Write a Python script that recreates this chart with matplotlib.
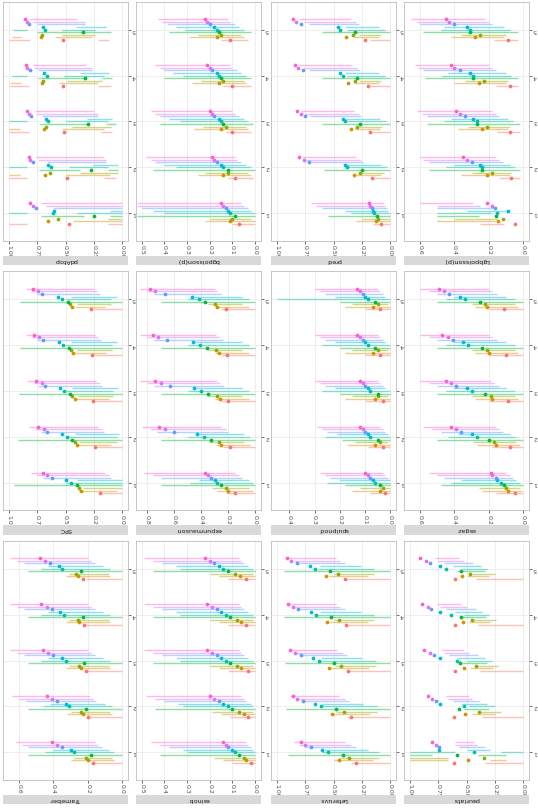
import numpy as np
import matplotlib
matplotlib.use("Agg")
import matplotlib.pyplot as plt

W, H = 538, 808
colors = ["#F8766D", "#D39200", "#93AA00", "#00BA38", "#00C19F",
          "#00B9E3", "#619CFF", "#DB72FB", "#FF61C3"]
categories = ["1", "2", "3", "4", "5"]
panel_names = ["pdAtop", "bgpoisson(p)", "pred", "Lgbpoisson(p)",
               "SPC", "expunmauson", "spuipnod", "esgaz",
               "Trameber", "esinob", "Leteruvs", "pauriats"]
panel_xlim = [(1.05, -0.05), (0.525, -0.026), (1.05, -0.05), (0.693, -0.033),
              (1.05, -0.05), (0.882, -0.042), (0.4725, -0.0225), (0.693, -0.033),
              (0.693, -0.033), (0.525, -0.026), (1.05, -0.05), (1.05, -0.05)]
panel_ticks = [[0, .25, .5, .75, 1], [0, .1, .2, .3, .4, .5], [0, .25, .5, .75, 1],
               [0, .2, .4, .6], [0, .25, .5, .75, 1], [0, .2, .4, .6, .8],
               [0, .1, .2, .3, .4], [0, .2, .4, .6], [0, .2, .4, .6],
               [0, .1, .2, .3, .4, .5], [0, .25, .5, .75, 1], [0, .25, .5, .75, 1]]
panel_fmt = ["%.2f", "%.1f", "%.2f", "%.1f", "%.2f", "%.1f", "%.1f", "%.1f",
             "%.1f", "%.1f", "%.2f", "%.2f"]

# series order: red, orange, olive, green, teal, cyan, blue, purple, pink
# rows: category 1..5
p1_pt = [[0.47, 0.65, 0.57, 0.25, 0.61, 0.60, 0.76, 0.79, 0.81],
         [0.49, 0.68, 0.64, 0.28, 0.63, 0.65, 0.79, 0.81, 0.82],
         [0.51, 0.69, 0.67, 0.30, 0.65, 0.67, 0.80, 0.82, 0.84],
         [0.52, 0.71, 0.70, 0.33, 0.66, 0.69, 0.81, 0.84, 0.85],
         [0.52, 0.72, 0.71, 0.35, 0.68, 0.70, 0.82, 0.84, 0.86]]
p1_lo = [[0.84, 0.00, 0.00, 0.34, 0.84, 0.00, 0.00, 0.00, 0.00],
         [0.84, 0.90, 0.04, 0.37, 0.84, 0.04, 0.14, 0.14, 0.16],
         [0.82, 0.90, 0.10, 0.31, 0.84, 0.09, 0.21, 0.21, 0.25],
         [0.82, 0.89, 0.18, 0.32, 0.84, 0.12, 0.27, 0.27, 0.32],
         [0.81, 0.89, 0.24, 0.10, 0.84, 0.14, 0.33, 0.33, 0.40]]
p1_hi = [[1.00, 0.43, 0.13, 0.72, 1.00, 0.11, 0.61, 0.67, 0.72],
         [1.00, 1.00, 0.37, 0.73, 1.00, 0.26, 0.66, 0.74, 0.76],
         [1.00, 1.00, 0.44, 0.73, 1.00, 0.31, 0.71, 0.76, 0.77],
         [1.00, 0.99, 0.49, 0.74, 0.97, 0.37, 0.74, 0.78, 0.79],
         [1.00, 0.97, 0.53, 0.75, 0.96, 0.41, 0.75, 0.79, 0.81]]
# extra segments: (category, series, low, high)
p1_extra = [(1, 0, 0.00, 0.13), (1, 3, 0.00, 0.11), (1, 4, 0.00, 0.40),
            (2, 0, 0.06, 0.16), (2, 1, 0.11, 0.50), (2, 3, 0.04, 0.13), (2, 4, 0.13, 0.47),
            (3, 0, 0.09, 0.19), (3, 1, 0.16, 0.53), (3, 3, 0.06, 0.14), (3, 4, 0.13, 0.50),
            (4, 0, 0.10, 0.21), (4, 1, 0.21, 0.56), (4, 3, 0.09, 0.18), (4, 4, 0.16, 0.51),
            (5, 0, 0.12, 0.21), (5, 1, 0.27, 0.59), (5, 4, 0.24, 0.53)]

p2_pt = [[0.07, 0.11, 0.10, 0.09, 0.11, 0.12, 0.13, 0.14, 0.15],
         [0.09, 0.14, 0.12, 0.12, 0.14, 0.15, 0.17, 0.18, 0.19],
         [0.10, 0.15, 0.13, 0.14, 0.15, 0.16, 0.18, 0.19, 0.20],
         [0.10, 0.16, 0.14, 0.15, 0.16, 0.17, 0.19, 0.20, 0.21],
         [0.11, 0.17, 0.15, 0.16, 0.17, 0.18, 0.20, 0.21, 0.22]]
p2_lo = [[0.00, 0.00, 0.02, 0.00, 0.00, 0.02, 0.03, 0.05, 0.06],
         [0.01, 0.02, 0.03, 0.00, 0.02, 0.04, 0.06, 0.08, 0.09],
         [0.02, 0.03, 0.04, 0.01, 0.03, 0.05, 0.07, 0.09, 0.10],
         [0.02, 0.04, 0.05, 0.02, 0.04, 0.06, 0.08, 0.10, 0.11],
         [0.03, 0.05, 0.06, 0.02, 0.05, 0.07, 0.09, 0.11, 0.12]]
p2_hi = [[0.10, 0.22, 0.20, 0.52, 0.40, 0.45, 0.50, 0.52, 0.52],
         [0.12, 0.25, 0.22, 0.45, 0.35, 0.40, 0.44, 0.46, 0.48],
         [0.13, 0.27, 0.23, 0.42, 0.33, 0.38, 0.42, 0.44, 0.46],
         [0.14, 0.28, 0.24, 0.40, 0.32, 0.36, 0.40, 0.42, 0.44],
         [0.15, 0.29, 0.25, 0.38, 0.31, 0.35, 0.39, 0.41, 0.43]]
p2_extra = []

p3_pt = [[0.08, 0.13, 0.11, 0.12, 0.14, 0.15, 0.16, 0.18, 0.19],
         [0.16, 0.32, 0.27, 0.25, 0.38, 0.40, 0.72, 0.76, 0.80],
         [0.18, 0.35, 0.29, 0.27, 0.40, 0.42, 0.75, 0.79, 0.82],
         [0.20, 0.37, 0.31, 0.29, 0.42, 0.44, 0.77, 0.81, 0.84],
         [0.22, 0.39, 0.33, 0.31, 0.44, 0.46, 0.79, 0.83, 0.86]]
p3_lo = [[0.00, 0.00, 0.00, 0.00, 0.00, 0.02, 0.03, 0.05, 0.06],
         [0.00, 0.08, 0.06, 0.00, 0.03, 0.08, 0.24, 0.26, 0.30],
         [0.00, 0.09, 0.07, 0.00, 0.04, 0.09, 0.26, 0.28, 0.32],
         [0.00, 0.10, 0.08, 0.00, 0.05, 0.10, 0.27, 0.29, 0.34],
         [0.00, 0.10, 0.08, 0.00, 0.05, 0.10, 0.28, 0.30, 0.35]]
p3_hi = [[0.15, 0.30, 0.25, 0.55, 0.35, 0.40, 0.60, 0.65, 0.70],
         [0.17, 0.31, 0.27, 0.58, 0.37, 0.40, 0.70, 0.74, 0.78],
         [0.18, 0.32, 0.28, 0.60, 0.38, 0.40, 0.71, 0.75, 0.79],
         [0.18, 0.32, 0.28, 0.60, 0.38, 0.40, 0.72, 0.76, 0.80],
         [0.18, 0.32, 0.28, 0.60, 0.38, 0.40, 0.72, 0.76, 0.80]]
p3_extra = []

p4_pt = [[0.05, 0.146, 0.12, 0.16, 0.155, 0.09, 0.165, 0.18, 0.21],
         [0.07, 0.21, 0.18, 0.24, 0.24, 0.25, 0.30, 0.33, 0.35],
         [0.08, 0.24, 0.21, 0.27, 0.27, 0.29, 0.34, 0.37, 0.39],
         [0.08, 0.26, 0.23, 0.29, 0.29, 0.31, 0.37, 0.40, 0.42],
         [0.09, 0.28, 0.25, 0.31, 0.31, 0.33, 0.40, 0.43, 0.45]]
p4_lo = [[0.11, 0.16, 0.155, 0.26, 0.19, 0.09, 0.16, 0.25, 0.29],
         [0.02, 0.08, 0.07, 0.02, 0.05, 0.08, 0.12, 0.14, 0.16],
         [0.02, 0.09, 0.08, 0.02, 0.06, 0.09, 0.14, 0.16, 0.18],
         [0.03, 0.10, 0.09, 0.03, 0.07, 0.10, 0.16, 0.18, 0.20],
         [0.03, 0.11, 0.10, 0.03, 0.08, 0.11, 0.18, 0.20, 0.22]]
p4_hi = [[0.25, 0.50, 0.40, 0.50, 0.50, 0.33, 0.50, 0.50, 0.60],
         [0.14, 0.36, 0.30, 0.55, 0.45, 0.40, 0.55, 0.58, 0.60],
         [0.15, 0.38, 0.32, 0.56, 0.46, 0.42, 0.56, 0.59, 0.62],
         [0.16, 0.40, 0.34, 0.57, 0.47, 0.44, 0.58, 0.61, 0.63],
         [0.17, 0.42, 0.36, 0.58, 0.48, 0.46, 0.60, 0.62, 0.65]]
p4_extra = []

p5_pt = [[0.20, 0.36, 0.38, 0.40, 0.45, 0.50, 0.62, 0.66, 0.70],
         [0.24, 0.40, 0.42, 0.44, 0.49, 0.53, 0.66, 0.69, 0.74],
         [0.26, 0.42, 0.44, 0.46, 0.51, 0.55, 0.68, 0.71, 0.76],
         [0.27, 0.43, 0.45, 0.47, 0.52, 0.56, 0.70, 0.73, 0.78],
         [0.28, 0.44, 0.46, 0.48, 0.53, 0.57, 0.71, 0.74, 0.79]]
p5_lo = [[0.00, 0.05, 0.00, 0.00, 0.00, 0.00, 0.10, 0.12, 0.15],
         [0.00, 0.10, 0.05, 0.00, 0.05, 0.03, 0.16, 0.18, 0.21],
         [0.00, 0.12, 0.08, 0.00, 0.08, 0.04, 0.18, 0.20, 0.23],
         [0.00, 0.14, 0.09, 0.00, 0.09, 0.05, 0.19, 0.21, 0.24],
         [0.00, 0.15, 0.10, 0.00, 0.10, 0.05, 0.20, 0.22, 0.25]]
p5_hi = [[0.20, 0.38, 0.35, 0.95, 0.50, 0.40, 0.70, 0.75, 0.80],
         [0.22, 0.40, 0.38, 0.92, 0.50, 0.42, 0.72, 0.77, 0.82],
         [0.24, 0.41, 0.39, 0.91, 0.50, 0.44, 0.74, 0.78, 0.84],
         [0.25, 0.42, 0.40, 0.90, 0.50, 0.45, 0.75, 0.80, 0.85],
         [0.25, 0.42, 0.40, 0.90, 0.50, 0.45, 0.75, 0.80, 0.85]]
p5_extra = []

p6_pt = [[0.15, 0.20, 0.22, 0.25, 0.28, 0.30, 0.33, 0.35, 0.37],
         [0.19, 0.25, 0.27, 0.33, 0.38, 0.43, 0.60, 0.67, 0.71],
         [0.20, 0.26, 0.28, 0.35, 0.40, 0.45, 0.63, 0.70, 0.74],
         [0.21, 0.27, 0.29, 0.36, 0.41, 0.46, 0.65, 0.72, 0.76],
         [0.22, 0.28, 0.30, 0.37, 0.42, 0.47, 0.67, 0.74, 0.78]]
p6_lo = [[0.00, 0.02, 0.05, 0.00, 0.02, 0.05, 0.10, 0.12, 0.15],
         [0.00, 0.04, 0.08, 0.00, 0.04, 0.08, 0.20, 0.22, 0.25],
         [0.00, 0.05, 0.10, 0.00, 0.05, 0.10, 0.23, 0.26, 0.28],
         [0.00, 0.05, 0.10, 0.00, 0.05, 0.10, 0.24, 0.27, 0.29],
         [0.00, 0.05, 0.10, 0.00, 0.05, 0.10, 0.25, 0.28, 0.30]]
p6_hi = [[0.22, 0.28, 0.32, 0.70, 0.48, 0.42, 0.70, 0.76, 0.82],
         [0.24, 0.29, 0.34, 0.70, 0.50, 0.44, 0.73, 0.78, 0.84],
         [0.25, 0.30, 0.35, 0.70, 0.50, 0.45, 0.75, 0.80, 0.85],
         [0.25, 0.30, 0.35, 0.70, 0.50, 0.45, 0.75, 0.80, 0.85],
         [0.25, 0.30, 0.35, 0.70, 0.50, 0.45, 0.75, 0.80, 0.85]]
p6_extra = []

p7_pt = [[0.02, 0.04, 0.03, 0.04, 0.06, 0.07, 0.08, 0.09, 0.10],
         [0.03, 0.06, 0.04, 0.05, 0.08, 0.09, 0.10, 0.11, 0.12],
         [0.03, 0.06, 0.05, 0.05, 0.08, 0.09, 0.10, 0.11, 0.12],
         [0.04, 0.07, 0.05, 0.06, 0.09, 0.10, 0.11, 0.12, 0.13],
         [0.04, 0.07, 0.05, 0.06, 0.09, 0.10, 0.11, 0.12, 0.13]]
p7_lo = [[0.00, 0.00, 0.00, 0.00, 0.00, 0.00, 0.01, 0.02, 0.03],
         [0.00, 0.00, 0.01, 0.00, 0.00, 0.01, 0.02, 0.03, 0.04],
         [0.00, 0.00, 0.01, 0.00, 0.00, 0.02, 0.03, 0.04, 0.05],
         [0.00, 0.00, 0.01, 0.00, 0.00, 0.02, 0.03, 0.04, 0.05],
         [0.00, 0.00, 0.01, 0.00, 0.00, 0.02, 0.03, 0.04, 0.05]]
p7_hi = [[0.08, 0.15, 0.12, 0.18, 0.25, 0.20, 0.24, 0.26, 0.28],
         [0.09, 0.17, 0.14, 0.19, 0.26, 0.21, 0.25, 0.27, 0.29],
         [0.10, 0.18, 0.15, 0.20, 0.27, 0.22, 0.26, 0.28, 0.30],
         [0.10, 0.18, 0.15, 0.20, 0.27, 0.22, 0.26, 0.28, 0.30],
         [0.10, 0.18, 0.15, 0.20, 0.45, 0.22, 0.26, 0.28, 0.30]]
p7_extra = []

p8_pt = [[0.05, 0.09, 0.10, 0.11, 0.13, 0.15, 0.16, 0.18, 0.19],
         [0.08, 0.16, 0.17, 0.20, 0.27, 0.30, 0.36, 0.39, 0.42],
         [0.09, 0.18, 0.19, 0.22, 0.30, 0.33, 0.39, 0.42, 0.45],
         [0.10, 0.20, 0.21, 0.24, 0.32, 0.35, 0.41, 0.44, 0.47],
         [0.11, 0.21, 0.22, 0.25, 0.34, 0.37, 0.43, 0.46, 0.49]]
p8_lo = [[0.00, 0.01, 0.02, 0.00, 0.02, 0.04, 0.06, 0.08, 0.10],
         [0.00, 0.02, 0.04, 0.00, 0.04, 0.08, 0.12, 0.14, 0.16],
         [0.00, 0.03, 0.05, 0.00, 0.05, 0.10, 0.14, 0.17, 0.19],
         [0.00, 0.03, 0.05, 0.00, 0.05, 0.10, 0.15, 0.18, 0.20],
         [0.00, 0.03, 0.05, 0.00, 0.05, 0.10, 0.15, 0.18, 0.20]]
p8_hi = [[0.16, 0.24, 0.26, 0.48, 0.42, 0.36, 0.46, 0.50, 0.55],
         [0.18, 0.27, 0.29, 0.50, 0.44, 0.38, 0.48, 0.53, 0.58],
         [0.20, 0.28, 0.30, 0.50, 0.45, 0.40, 0.50, 0.55, 0.60],
         [0.20, 0.28, 0.30, 0.50, 0.45, 0.40, 0.50, 0.55, 0.60],
         [0.20, 0.28, 0.30, 0.50, 0.45, 0.40, 0.50, 0.55, 0.60]]
p8_extra = []

p9_pt = [[0.17, 0.20, 0.21, 0.18, 0.28, 0.30, 0.35, 0.38, 0.41],
         [0.20, 0.23, 0.24, 0.21, 0.31, 0.33, 0.38, 0.41, 0.44],
         [0.21, 0.24, 0.25, 0.22, 0.33, 0.35, 0.40, 0.43, 0.46],
         [0.22, 0.25, 0.26, 0.23, 0.34, 0.36, 0.41, 0.44, 0.47],
         [0.23, 0.26, 0.27, 0.24, 0.35, 0.37, 0.42, 0.45, 0.48]]
p9_lo = [[0.00, 0.05, 0.06, 0.00, 0.05, 0.08, 0.12, 0.14, 0.16],
         [0.00, 0.06, 0.07, 0.00, 0.06, 0.10, 0.15, 0.17, 0.19],
         [0.00, 0.07, 0.08, 0.00, 0.07, 0.11, 0.16, 0.18, 0.20],
         [0.00, 0.07, 0.08, 0.00, 0.07, 0.11, 0.16, 0.18, 0.20],
         [0.00, 0.07, 0.08, 0.00, 0.07, 0.11, 0.16, 0.18, 0.20]]
p9_hi = [[0.18, 0.30, 0.28, 0.55, 0.45, 0.40, 0.55, 0.58, 0.62],
         [0.20, 0.32, 0.30, 0.55, 0.46, 0.42, 0.56, 0.60, 0.64],
         [0.21, 0.33, 0.31, 0.55, 0.47, 0.43, 0.57, 0.61, 0.65],
         [0.21, 0.33, 0.31, 0.55, 0.47, 0.43, 0.57, 0.61, 0.65],
         [0.21, 0.33, 0.31, 0.55, 0.47, 0.43, 0.57, 0.61, 0.65]]
p9_extra = []

p10_pt = [[0.02, 0.04, 0.05, 0.07, 0.09, 0.10, 0.12, 0.13, 0.14],
          [0.03, 0.05, 0.07, 0.10, 0.12, 0.14, 0.16, 0.18, 0.20],
          [0.03, 0.06, 0.08, 0.11, 0.13, 0.15, 0.17, 0.19, 0.21],
          [0.04, 0.06, 0.08, 0.11, 0.13, 0.15, 0.17, 0.19, 0.21],
          [0.04, 0.065, 0.09, 0.12, 0.14, 0.16, 0.18, 0.20, 0.22]]
p10_lo = [[0.00, 0.00, 0.00, 0.00, 0.00, 0.01, 0.02, 0.03, 0.04],
          [0.00, 0.00, 0.01, 0.00, 0.01, 0.02, 0.04, 0.05, 0.06],
          [0.00, 0.00, 0.01, 0.00, 0.01, 0.03, 0.05, 0.06, 0.07],
          [0.00, 0.00, 0.01, 0.00, 0.01, 0.03, 0.05, 0.06, 0.07],
          [0.00, 0.00, 0.01, 0.00, 0.01, 0.03, 0.05, 0.06, 0.07]]
p10_hi = [[0.10, 0.14, 0.18, 0.42, 0.30, 0.32, 0.38, 0.42, 0.46],
          [0.11, 0.15, 0.19, 0.44, 0.32, 0.34, 0.40, 0.44, 0.48],
          [0.12, 0.16, 0.20, 0.45, 0.33, 0.35, 0.41, 0.45, 0.49],
          [0.12, 0.16, 0.20, 0.45, 0.33, 0.35, 0.41, 0.45, 0.49],
          [0.12, 0.16, 0.20, 0.45, 0.33, 0.35, 0.41, 0.45, 0.49]]
p10_extra = []

p11_pt = [[0.30, 0.45, 0.36, 0.42, 0.55, 0.60, 0.70, 0.75, 0.79],
          [0.35, 0.51, 0.41, 0.48, 0.61, 0.66, 0.77, 0.82, 0.86],
          [0.37, 0.54, 0.43, 0.50, 0.63, 0.68, 0.79, 0.84, 0.88],
          [0.39, 0.56, 0.45, 0.52, 0.65, 0.70, 0.81, 0.86, 0.90],
          [0.40, 0.57, 0.46, 0.53, 0.66, 0.71, 0.82, 0.87, 0.91]]
p11_lo = [[0.00, 0.15, 0.10, 0.00, 0.10, 0.20, 0.30, 0.35, 0.40],
          [0.00, 0.18, 0.12, 0.00, 0.12, 0.24, 0.36, 0.40, 0.45],
          [0.00, 0.19, 0.13, 0.00, 0.13, 0.25, 0.38, 0.42, 0.47],
          [0.00, 0.20, 0.14, 0.00, 0.14, 0.26, 0.40, 0.44, 0.48],
          [0.00, 0.20, 0.14, 0.00, 0.14, 0.26, 0.40, 0.44, 0.48]]
p11_hi = [[0.35, 0.50, 0.45, 0.90, 0.60, 0.58, 0.75, 0.80, 0.85],
          [0.38, 0.52, 0.48, 0.92, 0.62, 0.60, 0.78, 0.83, 0.88],
          [0.39, 0.53, 0.49, 0.93, 0.63, 0.61, 0.79, 0.84, 0.89],
          [0.40, 0.54, 0.50, 0.94, 0.64, 0.62, 0.80, 0.85, 0.90],
          [0.40, 0.54, 0.50, 0.94, 0.64, 0.62, 0.80, 0.85, 0.90]]
p11_extra = []

p12_pt = [[0.61, 0.49, 0.345, 0.58, 0.43, 0.745, 0.74, 0.77, 0.80],
          [0.61, 0.51, 0.39, 0.57, 0.52, 0.73, 0.77, 0.80, 0.84],
          [0.60, 0.52, 0.42, 0.56, 0.58, 0.73, 0.79, 0.82, 0.87],
          [0.60, 0.53, 0.45, 0.55, 0.64, 0.73, 0.81, 0.84, 0.89],
          [0.60, 0.54, 0.47, 0.55, 0.68, 0.73, 0.82, 0.86, 0.91]]
p12_lo = [[0.00, 0.66, 0.66, 0.80, 0.60, 0.29, 0.34, 0.41, 0.43],
          [0.00, 0.25, 0.20, 0.30, 0.25, 0.32, 0.38, 0.45, 0.48],
          [0.00, 0.27, 0.22, 0.32, 0.28, 0.34, 0.40, 0.48, 0.52],
          [0.00, 0.29, 0.24, 0.33, 0.30, 0.36, 0.42, 0.50, 0.55],
          [0.00, 0.30, 0.25, 0.34, 0.32, 0.37, 0.44, 0.52, 0.57]]
p12_hi = [[0.34, 1.00, 1.00, 1.00, 1.00, 0.50, 0.57, 0.60, 0.60],
          [0.36, 0.45, 0.40, 0.52, 0.48, 0.55, 0.62, 0.66, 0.68],
          [0.38, 0.47, 0.42, 0.54, 0.50, 0.58, 0.65, 0.70, 0.72],
          [0.40, 0.48, 0.44, 0.56, 0.52, 0.60, 0.68, 0.73, 0.76],
          [0.42, 0.50, 0.45, 0.58, 0.54, 0.62, 0.70, 0.75, 0.78]]
p12_extra = [(1, 4, 0.00, 0.20), (1, 3, 0.15, 0.40), (1, 1, 0.15, 0.29)]

panels = [(p1_pt, p1_lo, p1_hi, p1_extra), (p2_pt, p2_lo, p2_hi, p2_extra),
          (p3_pt, p3_lo, p3_hi, p3_extra), (p4_pt, p4_lo, p4_hi, p4_extra),
          (p5_pt, p5_lo, p5_hi, p5_extra), (p6_pt, p6_lo, p6_hi, p6_extra),
          (p7_pt, p7_lo, p7_hi, p7_extra), (p8_pt, p8_lo, p8_hi, p8_extra),
          (p9_pt, p9_lo, p9_hi, p9_extra), (p10_pt, p10_lo, p10_hi, p10_extra),
          (p11_pt, p11_lo, p11_hi, p11_extra), (p12_pt, p12_lo, p12_hi, p12_extra)]

col_x = [3, 136, 271, 404]
row_y = [2, 271.5, 541]
pw, ph = 125, 239
dodge = 0.0556

fig = plt.figure(figsize=(W / 100, H / 100), dpi=100)
for k in range(12):
    r, c = divmod(k, 4)
    x0, y0 = col_x[c], row_y[r]
    ax = fig.add_axes([x0 / W, 1 - (y0 + ph) / H, pw / W, ph / H])
    ax.set_xlim(*panel_xlim[k])
    ax.set_ylim(0.4, 5.6)
    ax.set_facecolor("white")
    for s in ax.spines.values():
        s.set_color("#BDBDBD")
        s.set_linewidth(0.6)
    ax.set_xticks(panel_ticks[k])
    ax.set_xticklabels([panel_fmt[k] % t for t in panel_ticks[k]],
                       rotation=270, fontsize=4.5, color="#4D4D4D", va="top")
    ax.set_yticks(range(1, 6))
    ax.set_yticklabels(categories, rotation=180, fontsize=4.5, color="#4D4D4D")
    ax.yaxis.tick_right()
    ax.tick_params(length=2, width=0.5, color="#333333", pad=1)
    ax.grid(True, color="#EBEBEB", lw=0.6)
    ax.set_axisbelow(True)
    pt, lo, hi, extra = panels[k]
    for ci in range(5):
        for si in range(9):
            y = ci + 1 + (si - 4) * dodge
            ax.hlines(y, lo[ci][si], hi[ci][si], color=colors[si], lw=1.0, alpha=0.45)
    for (cat, si, a, b) in extra:
        y = cat + (si - 4) * dodge
        ax.hlines(y, a, b, color=colors[si], lw=1.0, alpha=0.45)
    for ci in range(5):
        for si in range(9):
            y = ci + 1 + (si - 4) * dodge
            ax.plot(pt[ci][si], y, "o", color=colors[si], ms=2.7, mec="none")
    sax = fig.add_axes([x0 / W, 1 - (y0 + ph + 24) / H, pw / W, 9.5 / H])
    sax.set_facecolor("#D9D9D9")
    sax.set_xticks([]); sax.set_yticks([])
    for s in sax.spines.values():
        s.set_visible(False)
    sax.text(0.5, 0.5, panel_names[k], rotation=180, ha="center", va="center",
             fontsize=4.6, color="#1A1A1A", transform=sax.transAxes)

fig.savefig("out.png", dpi=100)
